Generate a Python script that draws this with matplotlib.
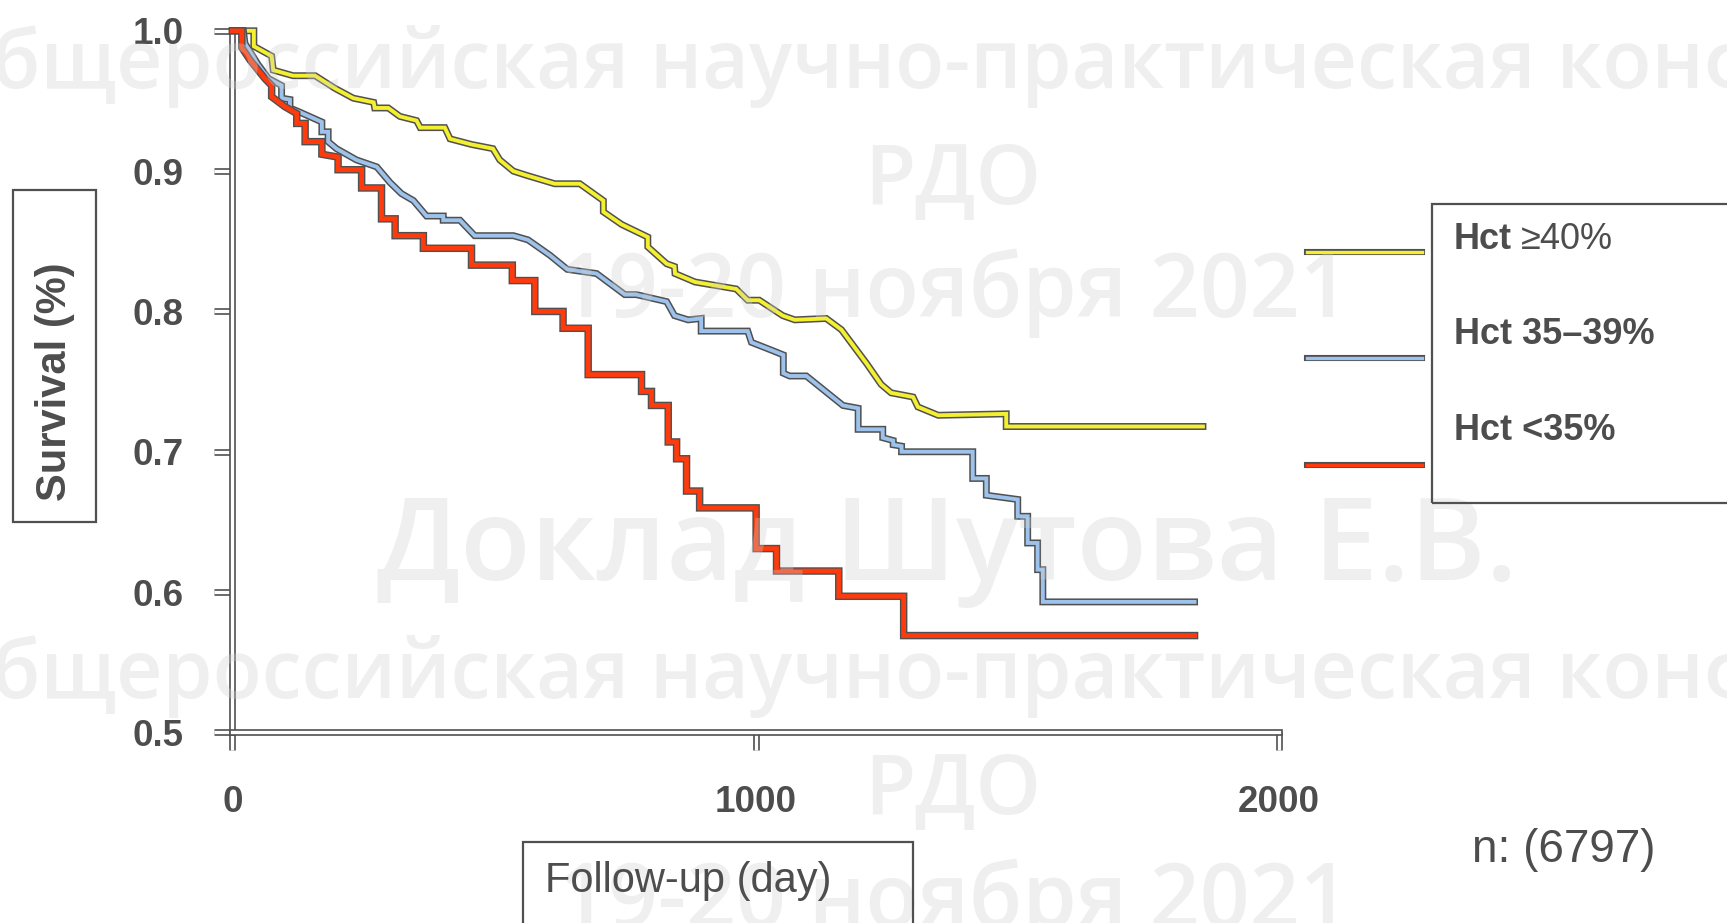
import matplotlib
matplotlib.use("Agg")
import matplotlib.pyplot as plt
import matplotlib.patheffects as pe
from matplotlib.patches import Rectangle

plt.rcParams['font.family'] = ['Liberation Sans', 'DejaVu Sans']

# Kaplan-Meier curves (days, survival)
hi_x = [0, 41, 41, 75, 78, 116, 158, 196, 231, 270, 272, 298, 320, 352, 359, 406, 416,
        457, 498, 511, 537, 562, 616, 664, 709, 709, 744, 794, 794, 830, 845, 846, 884,
        963, 985, 1007, 1052, 1075, 1135, 1164, 1212, 1240, 1259, 1301, 1310, 1349,
        1479, 1479, 1855]
hi_y = [1.0, 1.0, 0.989, 0.982, 0.972, 0.968, 0.968, 0.959, 0.952, 0.949, 0.945, 0.945,
        0.939, 0.936, 0.931, 0.931, 0.923, 0.919, 0.916, 0.908, 0.900, 0.897, 0.891,
        0.891, 0.879, 0.871, 0.862, 0.853, 0.846, 0.834, 0.832, 0.827, 0.821, 0.816,
        0.808, 0.808, 0.797, 0.794, 0.795, 0.787, 0.763, 0.748, 0.742, 0.739, 0.732,
        0.726, 0.727, 0.718, 0.718]

mid_x = [0, 21, 24, 49, 69, 94, 94, 110, 110, 129, 171, 171, 183, 183, 199, 237, 276,
         301, 323, 346, 371, 403, 403, 435, 463, 537, 565, 607, 640, 696, 750, 772, 830,
         845, 871, 896, 896, 985, 992, 1033, 1053, 1053, 1065, 1097, 1167, 1196, 1196,
         1243, 1243, 1263, 1263, 1279, 1279, 1415, 1415, 1441, 1441, 1501, 1501, 1520,
         1520, 1539, 1539, 1549, 1549, 1839]
mid_y = [1.0, 1.0, 0.991, 0.976, 0.966, 0.961, 0.952, 0.951, 0.945, 0.942, 0.935, 0.928,
         0.928, 0.921, 0.916, 0.908, 0.903, 0.892, 0.884, 0.879, 0.868, 0.868, 0.865,
         0.865, 0.854, 0.854, 0.851, 0.840, 0.830, 0.827, 0.812, 0.812, 0.807, 0.797,
         0.794, 0.795, 0.786, 0.786, 0.778, 0.772, 0.769, 0.756, 0.754, 0.754, 0.733,
         0.731, 0.716, 0.716, 0.710, 0.708, 0.705, 0.704, 0.700, 0.700, 0.681, 0.681,
         0.669, 0.666, 0.654, 0.654, 0.635, 0.635, 0.616, 0.616, 0.593, 0.593]

lo_x = [0, 18, 18, 34, 62, 75, 75, 100, 123, 123, 139, 139, 171, 171, 202, 202, 247, 247,
        285, 285, 311, 311, 365, 365, 457, 457, 535, 535, 578, 578, 632, 632, 680, 680,
        782, 782, 801, 801, 833, 833, 849, 849, 868, 868, 893, 893, 1001, 1001, 1040,
        1040, 1159, 1159, 1283, 1283, 1839]
lo_y = [1.0, 1.0, 0.988, 0.979, 0.966, 0.961, 0.953, 0.946, 0.941, 0.934, 0.934, 0.921,
        0.921, 0.912, 0.910, 0.901, 0.901, 0.888, 0.888, 0.866, 0.866, 0.854, 0.854,
        0.845, 0.845, 0.833, 0.833, 0.822, 0.822, 0.800, 0.800, 0.788, 0.788, 0.755,
        0.755, 0.743, 0.743, 0.733, 0.733, 0.707, 0.707, 0.695, 0.695, 0.672, 0.672,
        0.660, 0.660, 0.631, 0.631, 0.615, 0.615, 0.597, 0.597, 0.569, 0.569]

labels = ["Hct ", "Hct 35\u201339%", "Hct <35%"]
colors = ["#F4F030", "#9DC3EC", "#FF3A0C"]
y_ticks = [0.5, 0.6, 0.7, 0.8, 0.9, 1.0]
x_ticks = [0, 1000, 2000]

W, H = 1727, 923
txt = "#4d4d4d"
edge = "#505050"


def fx(px):
    return px / W


def fy(py):
    return 1 - py / H


fig = plt.figure(figsize=(W / 100, H / 100), dpi=100)
ax = fig.add_axes([fx(232.4), fy(732.4), fx(1278.8) - fx(232.4), fy(30.8) - fy(732.4)])

widths = [(5.0, 2.8), (5.0, 2.8), (5.4, 3.4)]
for xs, ys, c, (wo, wi) in zip([hi_x, mid_x, lo_x], [hi_y, mid_y, lo_y], colors, widths):
    ax.plot(xs, ys, color=c, lw=wi, clip_on=False, zorder=3,
            solid_joinstyle='miter',
            path_effects=[pe.Stroke(linewidth=wo, foreground=edge), pe.Normal()])

ax.set_xlim(0, 2000)
ax.set_ylim(0.5, 1.0)
ax.set_xticks(x_ticks)
ax.set_yticks(y_ticks)
ax.set_xticklabels([str(v) for v in x_ticks])
ax.set_yticklabels([f"{v:.1f}" for v in y_ticks])
for s in ['top', 'right']:
    ax.spines[s].set_visible(False)
axis_pe = [pe.Stroke(linewidth=4.8, foreground=edge), pe.Normal()]
for s in ['left', 'bottom']:
    ax.spines[s].set_color('white')
    ax.spines[s].set_linewidth(2.4)
    ax.spines[s].set_path_effects(axis_pe)
ax.tick_params(direction='out', length=13, width=2.4, color='white',
               labelsize=26.5, labelcolor=txt)
ax.tick_params(axis='y', pad=22)
ax.tick_params(axis='x', pad=25)
for t in ax.xaxis.get_major_ticks() + ax.yaxis.get_major_ticks():
    t.tick1line.set_path_effects(axis_pe)
for lab in ax.get_xticklabels() + ax.get_yticklabels():
    lab.set_fontweight('bold')

# y label in its box
fig.patches.append(Rectangle((fx(13.3), fy(521.7)), fx(96) - fx(13.3), fy(190) - fy(521.7),
                             transform=fig.transFigure, fill=False, ec=edge, lw=1.6))
fig.text(fx(55), fy(382), "Survival (%)", rotation=90, ha='center', va='center',
         fontsize=30, fontweight='bold', color=txt)

# x label in its box
fig.patches.append(Rectangle((fx(523.3), fy(940)), fx(913.3) - fx(523.3), fy(841.7) - fy(940),
                             transform=fig.transFigure, fill=False, ec=edge, lw=1.6))
fig.text(fx(545), fy(892), "Follow-up (day)", ha='left', va='baseline',
         fontsize=30, color=txt)

# legend
fig.patches.append(Rectangle((fx(1432.3), fy(503.3)), fx(1745) - fx(1432.3), fy(204) - fy(503.3),
                             transform=fig.transFigure, fill=False, ec=edge, lw=1.6))
lax = fig.add_axes([0, 0, 1, 1], facecolor='none')
lax.set_xlim(0, W)
lax.set_ylim(H, 0)
lax.axis('off')
leg_line_y = [251.7, 358.3, 465]
leg_text_y = [249, 344, 440]
for lab, c, ly, ty in zip(labels, colors, leg_line_y, leg_text_y):
    lax.plot([1306.7, 1421.7], [ly, ly], color=c, lw=2.4,
             path_effects=[pe.Stroke(linewidth=4.4, foreground=edge), pe.Normal()])
    lax.text(1454, ty, lab.strip(), ha='left', va='baseline', fontsize=26,
             fontweight='bold', color=txt)
lax.text(1520.7, leg_text_y[0], "\u226540%", ha='left', va='baseline', fontsize=26,
         color=txt)

fig.text(fx(1471.7), fy(861.7), "n: (6797)", ha='left', va='baseline', fontsize=33,
         color=txt)

# watermark
wm = dict(family=['Open Sans', 'DejaVu Sans'], fontweight='semibold',
          color='#cfcfcf', alpha=0.33, zorder=10)
conf = "\u041e\u0431\u0449\u0435\u0440\u043e\u0441\u0441\u0438\u0439\u0441\u043a\u0430\u044f " \
       "\u043d\u0430\u0443\u0447\u043d\u043e-\u043f\u0440\u0430\u043a\u0442\u0438\u0447\u0435\u0441\u043a\u0430\u044f " \
       "\u043a\u043e\u043d\u0444\u0435\u0440\u0435\u043d\u0446\u0438\u044f"
rdo = "\u0420\u0414\u041e"
date = "19-20 \u043d\u043e\u044f\u0431\u0440\u044f 2021"
talk = "\u0414\u043e\u043a\u043b\u0430\u0434 \u0428\u0443\u0442\u043e\u0432\u0430 \u0415.\u0412."
for off in [0, 610]:
    lax.text(-72, 88 + off, conf, ha='left', va='baseline', fontsize=58, **wm)
    lax.text(953, 204 + off, rdo, ha='center', va='baseline', fontsize=60, **wm)
    lax.text(954, 317 + off, date, ha='center', va='baseline', fontsize=63, **wm)
lax.text(947, 580, talk, ha='center', va='baseline', fontsize=83, **wm)

fig.savefig("out.png", dpi=100)
